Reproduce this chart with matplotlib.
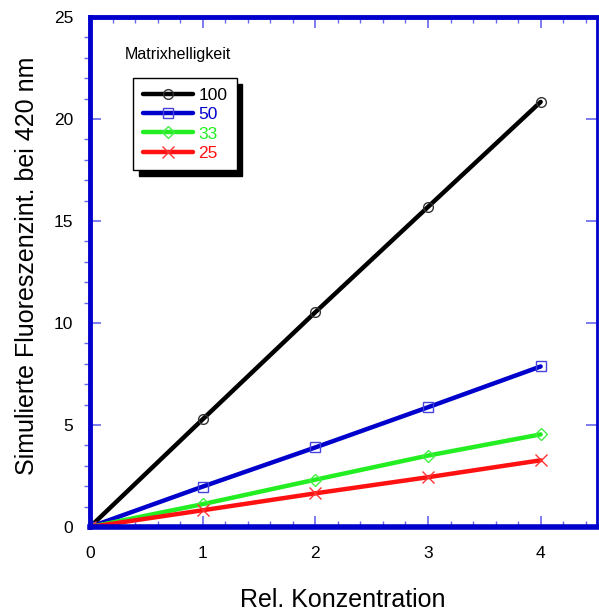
import matplotlib
matplotlib.use("Agg")
import matplotlib.pyplot as plt
from matplotlib.ticker import MultipleLocator

plt.rcParams['font.family'] = ['Liberation Sans', 'DejaVu Sans']

x = [0, 1, 2, 3, 4]
s100 = [0, 5.28, 10.53, 15.69, 20.84]
s50 = [0, 1.98, 3.9, 5.87, 7.87]
s33 = [0, 1.12, 2.32, 3.5, 4.54]
s25 = [0, 0.82, 1.65, 2.44, 3.27]
labels = ['100', '50', '33', '25']
colors = ['#000000', '#0000cc', '#22ee22', '#ff1111']
mcolors = ['#333333', '#4444dd', '#44ee44', '#ff3333']
markers = ['o', 's', 'D', 'x']
msizes = [7, 7, 6, 8]

fig = plt.figure(figsize=(5.99, 6.12), dpi=100)
ax = fig.add_axes([90/599, 1-527/612, (597-90)/599, (527-17)/612])

series = [s100, s50, s33, s25]
handles = []
for ys, lab, c, mc, m, ms in zip(series, labels, colors, mcolors, markers, msizes):
    h, = ax.plot(x, ys, color=c, lw=3.2, marker=m, markersize=ms,
                 markerfacecolor='none', markeredgecolor=mc, markeredgewidth=1.0,
                 label=lab, solid_capstyle='round')
    handles.append(h)

ax.set_xlim(0, 4.5)
ax.set_ylim(0, 25)
ax.xaxis.set_major_locator(MultipleLocator(1))
ax.xaxis.set_minor_locator(MultipleLocator(0.2))
ax.yaxis.set_major_locator(MultipleLocator(5))
ax.yaxis.set_minor_locator(MultipleLocator(1))
ax.set_xticks([0, 1, 2, 3, 4])

spc = '#0000cc'
for side, w in [('left', 3.5), ('bottom', 4), ('top', 3.5), ('right', 2)]:
    ax.spines[side].set_color(spc)
    ax.spines[side].set_linewidth(w)

tc = '#6666ee'
ax.tick_params(axis='both', which='major', direction='in', length=8, width=1.2,
               color=tc, top=True, right=True, labelsize=12.5)
ax.tick_params(axis='x', which='major', pad=14)
ax.tick_params(axis='y', which='major', pad=12)
ax.tick_params(axis='x', which='minor', direction='in', length=4, width=1,
               color=tc, top=True, bottom=True)
ax.tick_params(axis='y', which='minor', direction='out', length=4, width=1,
               color=tc, left=True, right=False)

fig.text(343/599, 1-600/612, 'Rel. Konzentration', fontsize=18, ha='center', va='center')
fig.text(27/599, 1-266/612, 'Simulierte Fluoreszenzint. bei 420 nm', fontsize=18,
         ha='center', va='center', rotation=90)

leg = ax.legend(handles=handles, loc='upper left', bbox_to_anchor=(0.085, 0.880),
                borderaxespad=0, fontsize=12.5, frameon=True, fancybox=False,
                edgecolor='black', handlelength=2.9, handletextpad=0.3,
                borderpad=0.55, labelspacing=0.24,
                shadow={'color': 'black', 'alpha': 1, 'ox': 4, 'oy': -4})
leg.get_frame().set_linewidth(1.0)
for t, c in zip(leg.get_texts(), colors):
    t.set_color(c)

ax.text(0.069, 0.927, 'Matrixhelligkeit', transform=ax.transAxes, fontsize=11.5,
        ha='left', va='center')

fig.savefig('out.png', dpi=100)
